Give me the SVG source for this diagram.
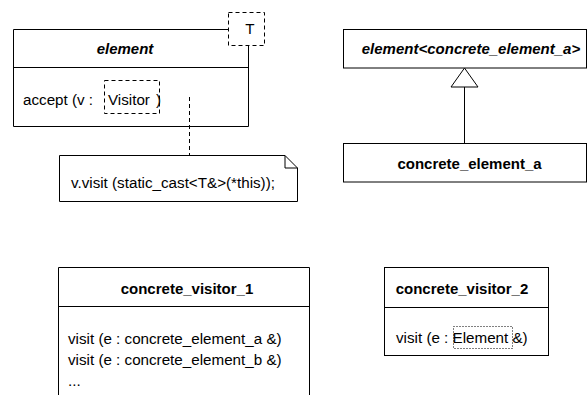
<svg xmlns="http://www.w3.org/2000/svg" width="587" height="395" viewBox="0 0 587 395">
<style>
.b{fill:#fff;stroke:#000;stroke-width:1}
.l{fill:none;stroke:#000;stroke-width:1}
.d{fill:none;stroke:#000;stroke-width:1;stroke-dasharray:4,3}
.o{fill:none;stroke:#000;stroke-width:1;stroke-dasharray:1,2}
text{font-family:"Liberation Sans",Arial,sans-serif;font-size:15.2px;fill:#000}
.t{font-weight:bold;text-anchor:middle;font-size:15px}
.i{font-style:italic}
</style>
<rect width="587" height="395" fill="#fff"/>
<g id="element">
<path class="l" d="M13.5,29.5 H228 M248.5,45 V126.5 H13.5 V29.5 M13.5,67.5 H248.5"/>
<rect class="d" x="228.5" y="12.5" width="36" height="33" fill="#fff"/>
<text x="250" y="34" text-anchor="middle">T</text>
<text class="t i" x="125" y="54">element</text>
<text x="23" y="105">accept (v :</text>
<rect class="d" x="104.5" y="80.5" width="55" height="33"/>
<text x="108" y="105">Visitor</text>
<text x="156" y="105">)</text>
</g>
<g id="note">
<path class="b" d="M59.5,155.5 H285 L297.5,168 V201.5 H59.5 Z"/>
<path class="l" d="M285,155.5 V168 H297.5"/>
<text x="71" y="188">v.visit (static_cast&lt;T&amp;&gt;(*this));</text>
</g>
<g id="element_a_tpl">
<rect class="b" x="343.5" y="29.5" width="243" height="38.5"/>
<text class="t i" x="471" y="54">element&lt;concrete_element_a&gt;</text>
</g>
<g id="concrete_element_a">
<rect class="b" x="343.5" y="143.5" width="243" height="38.5"/>
<text class="t" x="469.5" y="169">concrete_element_a</text>
</g>
<g id="concrete_visitor_1">
<path class="l" d="M58.5,400 V267.5 H309.5 V400 M58.5,306.5 H309.5"/>
<text class="t" x="187" y="294">concrete_visitor_1</text>
<text x="68" y="344">visit (e : concrete_element_a &amp;)</text>
<text x="68" y="365">visit (e : concrete_element_b &amp;)</text>
<text x="68" y="386">...</text>
</g>
<g id="concrete_visitor_2">
<rect class="b" x="384.5" y="267.5" width="164" height="88"/>
<path class="l" d="M384.5,307.5 H548.5"/>
<text class="t" x="462" y="294">concrete_visitor_2</text>
<rect class="o" x="453.5" y="326.5" width="59" height="22"/>
<text x="396" y="343">visit (e : Element &amp;)</text>
</g>
<g id="connectors">
<path class="d" d="M189.5,97 V155"/>
<path class="l" d="M464.5,87 V143.5"/>
<path class="b" d="M464.5,68 L451,87 H478 Z"/>
</g>
</svg>
